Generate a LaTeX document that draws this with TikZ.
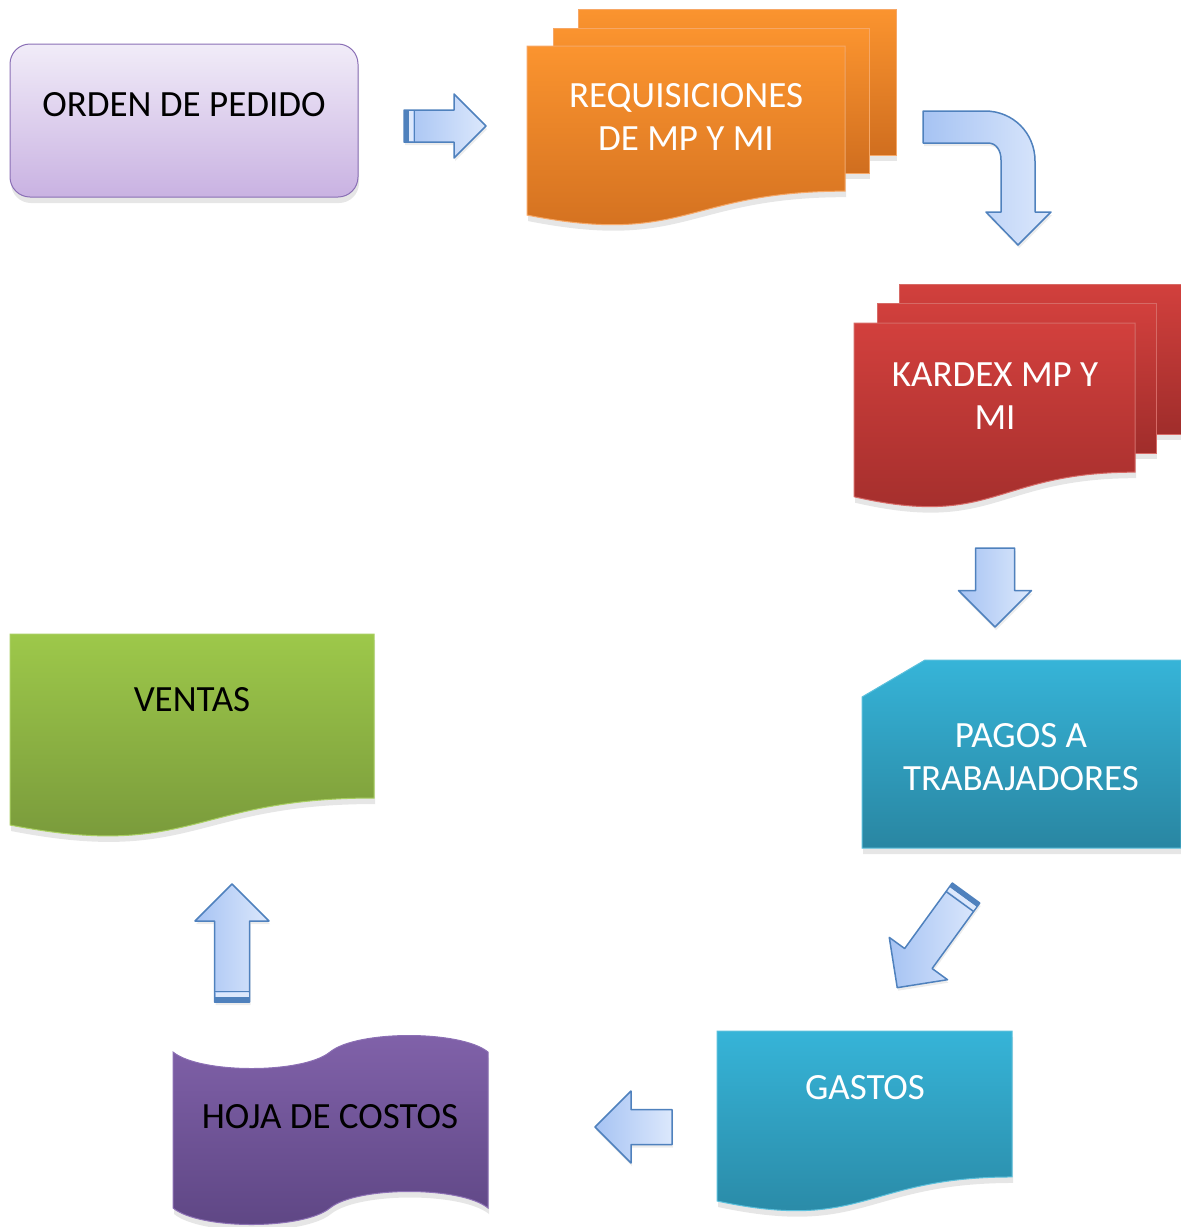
\documentclass[tikz,border=0pt]{standalone}
\usepackage{fontspec}
\setmainfont{Carlito}
\usetikzlibrary{shadows,calc}

\definecolor{ordtop}{HTML}{F1ECF8}
\definecolor{ordbot}{HTML}{C9B2E2}
\definecolor{ordedge}{HTML}{8A6FB5}
\definecolor{reqtop}{HTML}{FB942F}
\definecolor{reqbot}{HTML}{D06E1F}
\definecolor{reqedge}{HTML}{F6A766}
\definecolor{kartop}{HTML}{D2403D}
\definecolor{karbot}{HTML}{A02D2B}
\definecolor{karedge}{HTML}{D66A66}
\definecolor{cyantop}{HTML}{36B4D8}
\definecolor{cyanbot}{HTML}{2986A2}
\definecolor{cyanedge}{HTML}{5BC0DC}
\definecolor{grntop}{HTML}{9DC84A}
\definecolor{grnbot}{HTML}{76963A}
\definecolor{grnedge}{HTML}{A9CF62}
\definecolor{purtop}{HTML}{8162AA}
\definecolor{purbot}{HTML}{5E4684}
\definecolor{puredge}{HTML}{8C70B4}
\definecolor{arrA}{HTML}{A6C3F3}
\definecolor{arrB}{HTML}{DCE8FC}
\definecolor{arredge}{HTML}{4F81BD}

% document sheet with a wavy bottom
\newcommand{\docshape}[5]{%
  \path[#1] (#2,#3) -- (#4,#3) -- (#4,{#3+0.802*#5})
    .. controls ({(#2+#4)/2},{#3+0.802*#5}) and ({(#2+#4)/2},{#3+1.1075*#5}) .. (#2,{#3+0.934*#5}) -- cycle;}

\tikzset{
  doc/.style={draw=#1edge, line width=1pt, top color=#1top, bottom color=#1bot,
    drop shadow={shadow xshift=1pt, shadow yshift=-6pt, opacity=.2}},
  lbl/.style={font=\fontsize{37}{43}\selectfont, align=center, inner sep=0pt},
  ablue/.style={draw=arredge, line width=1.5pt, line join=round, left color=arrA, right color=arrB,
    drop shadow={shadow xshift=1pt, shadow yshift=-3pt, opacity=.15}},
  pics/barrow/.style args={#1/#2/#3}{code={
    \path[ablue] (0,-#2) -- ({#1-#3},-#2) -- ({#1-#3},-#3) -- (#1,0)
      -- ({#1-#3},#3) -- ({#1-#3},#2) -- (0,#2) -- cycle;
  }},
  pics/bands/.style={code={
    \fill[arredge] (0,-#1) rectangle (5,#1);
    \fill[arrB] (5,{-#1+1}) rectangle (9,{#1-1});
    \draw[arredge, line width=1.5pt] (10.5,-#1) -- (10.5,#1);
  }}
}

\begin{document}
\begin{tikzpicture}[x=1pt,y=-1pt]
\useasboundingbox (0,0) rectangle (1181,1227);

% boxes
\path[doc=ord, rounded corners=20pt] (10,44) rectangle (358,197);
\path[doc=req] (578,9) rectangle (896,155);
\path[doc=req] (553,28) rectangle (869,173);
\docshape{doc=req}{527}{46}{845}{181}
\path[doc=kar] (899,284) rectangle (1181,434);
\path[doc=kar] (877,303) rectangle (1156,453);
\docshape{doc=kar}{854}{323}{1135}{186}
\path[doc=cyan] (925,660) -- (1181,660) -- (1181,848) -- (862,848) -- (862,697) -- cycle;
\docshape{doc=cyan}{717}{1031}{1012}{182}
\path[doc=pur] (173,1052) .. controls (200,1074) and (303,1074) .. (330,1052)
  .. controls (357,1030) and (461,1030) .. (488,1052) -- (488,1208)
  .. controls (461,1186) and (357,1186) .. (330,1208)
  .. controls (303,1230) and (200,1230) .. (173,1208) -- cycle;
\docshape{doc=grn}{10}{634}{374}{204.5}

% labels
\node[lbl] (orden) at (184,105) {ORDEN DE PEDIDO};
\node[lbl, text=white] (req) at (686,116.5) {REQUISICIONES\\DE MP Y MI};
\node[lbl, text=white] (kardex) at (995,396) {KARDEX MP Y\\MI};
\node[lbl, text=white] (pagos) at (1021,757) {PAGOS A\\TRABAJADORES};
\node[lbl, text=white] (gastos) at (865,1088) {GASTOS};
\node[lbl] (hoja) at (330,1117) {HOJA DE COSTOS};
\node[lbl] (ventas) at (192,700) {VENTAS};

% block arrows
\pic at (404,126) {barrow=82/16/32};
\pic at (404,126) {bands=16};
\path[ablue] (923,111) -- (985,111) .. controls (1013,111) and (1035,133) .. (1035,161)
  -- (1035,212) -- (1051,212) -- (1018,245) -- (986,212) -- (1001,212) -- (1001,160)
  .. controls (1001,150) and (996,143) .. (988,143) -- (923,143) -- cycle;
\pic[rotate=-90] at (995,548) {barrow=79/19.5/36.5};
\pic[rotate=234] at (966,893) {barrow=117/17/36};
\pic[rotate=234] at (966,893) {bands=17};
\pic[rotate=180] at (672,1127) {barrow=77/17.5/36};
\pic[rotate=90] at (232,1002) {barrow=118/17.5/37};
\pic[rotate=90] at (232,1002) {bands=17.5};
\end{tikzpicture}
\end{document}
